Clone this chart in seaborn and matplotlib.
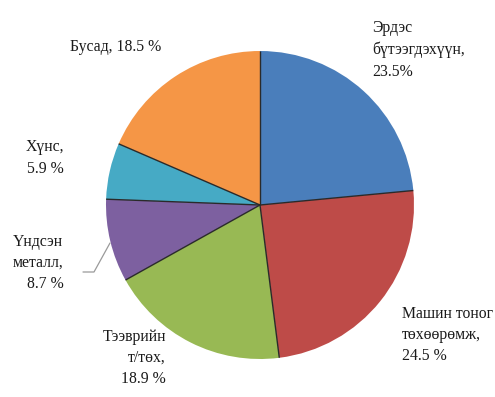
import matplotlib
matplotlib.use("Agg")
import matplotlib.pyplot as plt
import numpy as np
import seaborn as sns

# Export structure by product group (%)
categories = ["Эрдэс бүтээгдэхүүн", "Машин тоног төхөөрөмж", "Тээврийн т/төх",
              "Үндсэн металл", "Хүнс", "Бусад"]
shares = [23.5, 24.5, 18.9, 8.7, 5.9, 18.5]
label_texts = ["Эрдэс\nбүтээгдэхүүн,\n23.5%",
               "Машин тоног\nтөхөөрөмж,\n24.5 %",
               "Тээврийн\nт/төх,\n18.9 %",
               "Үндсэн\nметалл,\n8.7 %",
               "Хүнс,\n5.9 %",
               "Бусад, 18.5 %"]
colors = ["#4A7EBB", "#BE4B48", "#98B954", "#7D60A0", "#46AAC5", "#F59646"]

sns.set_theme(style="white")
plt.rcParams["font.family"] = ["Liberation Serif", "DejaVu Serif"]

W, H = 495, 397
fig = plt.figure(figsize=(W / 100, H / 100), dpi=100)
fig.patch.set_facecolor("white")

cx, cy, r = 260, 205, 154
ax = fig.add_axes([(cx - r) / W, (H - cy - r) / H, 2 * r / W, 2 * r / H])
ax.pie(shares, colors=colors, startangle=90, counterclock=False,
       radius=1.0, wedgeprops=dict(linewidth=0))

# dark separators between the slices
bounds = np.concatenate([[0], np.cumsum(shares)]) / np.sum(shares)
for b in bounds[:-1]:
    ang = np.deg2rad(90 - 360 * b)
    ax.plot([0, np.cos(ang)], [0, np.sin(ang)], color="#2a2a2a", lw=1.0,
            solid_capstyle="butt")

ax.set_xlim(-1, 1)
ax.set_ylim(-1, 1)
ax.set_aspect("equal")
ax.axis("off")


def fx(x):
    return x / W


def fy(y):
    return 1 - y / H


fs = 11.3
ls = 1.45
tc = "#1a1a1a"
fig.text(fx(372), fy(50), label_texts[0], ha="left", va="center",
         fontsize=fs, linespacing=ls, color=tc)
fig.text(fx(402), fy(335), label_texts[1], ha="left", va="center",
         fontsize=fs, linespacing=ls, color=tc)
fig.text(fx(166), fy(358), label_texts[2], ha="right", va="center",
         fontsize=fs, linespacing=ls, multialignment="right", color=tc)
fig.text(fx(38), fy(263), label_texts[3], ha="center", va="center",
         fontsize=fs, linespacing=ls, multialignment="right", color=tc)
fig.text(fx(45), fy(158), label_texts[4], ha="center", va="center",
         fontsize=fs, linespacing=ls, color=tc)
fig.text(fx(116), fy(47), label_texts[5], ha="center", va="center",
         fontsize=fs, color=tc)

# leader line for the small metal slice
fig.add_artist(plt.Line2D([fx(83), fx(94), fx(110)], [fy(272), fy(272), fy(243)],
                          color="#9a9a9a", linewidth=0.9))

fig.savefig("out.png", dpi=100, facecolor="white")
